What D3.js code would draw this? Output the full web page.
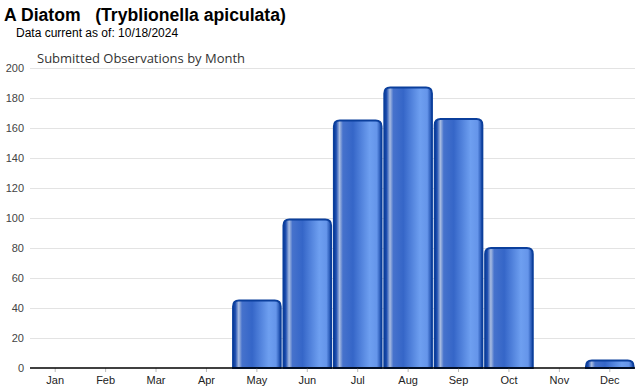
<!DOCTYPE html>
<html>
<head>
<meta charset="utf-8">
<script src="https://cdn.jsdelivr.net/npm/d3@7"></script>
<style>
  body { margin: 0; background: #fff; }
  svg { display: block; font-family: "Liberation Sans", Arial, sans-serif; }
</style>
</head>
<body>
<svg width="640" height="390"></svg>
<script>
var months = ["Jan", "Feb", "Mar", "Apr", "May", "Jun", "Jul", "Aug", "Sep", "Oct", "Nov", "Dec"];
var counts = [0, 0, 0, 0, 45, 99, 165, 187, 166, 80, 0, 5];
var yTicks = [0, 20, 40, 60, 80, 100, 120, 140, 160, 180, 200];

var svg = d3.select("svg");

var margin = {top: 68, right: 5, bottom: 22, left: 30},
    width = 640 - margin.left - margin.right,
    height = 390 - margin.top - margin.bottom;

// titles
svg.append("text")
    .attr("x", 4).attr("y", 21)
    .attr("font-size", 17.6).attr("font-weight", "bold")
    .attr("fill", "#000")
    .attr("xml:space", "preserve")
    .text("A Diatom   (Tryblionella apiculata)");

svg.append("text")
    .attr("x", 16).attr("y", 37)
    .attr("font-size", 12).attr("fill", "#000")
    .text("Data current as of: 10/18/2024");

svg.append("text")
    .attr("x", 37).attr("y", 63)
    .attr("font-size", 13).attr("fill", "#333")
    .attr("font-family", "'Open Sans', sans-serif")
    .text("Submitted Observations by Month");

var defs = svg.append("defs");
var grad = defs.append("linearGradient")
    .attr("id", "barGrad")
    .attr("x1", "0%").attr("x2", "100%")
    .attr("y1", "0%").attr("y2", "0%");
[
    [0, "#0a3a98"], [0.05, "#1f4fb0"], [0.12, "#a9bde2"], [0.19, "#4672cc"],
    [0.4, "#3566c8"], [0.75, "#6e9ff0"], [0.9, "#6595ea"], [1, "#0f40a0"]
].forEach(function (s) {
    grad.append("stop").attr("offset", s[0]).attr("stop-color", s[1]);
});

var g = svg.append("g")
    .attr("transform", "translate(" + margin.left + "," + margin.top + ")");

var x = d3.scaleBand()
    .domain(months)
    .range([0, width])
    .paddingInner(0.02)
    .paddingOuter(0.01);

var y = d3.scaleLinear()
    .domain([0, 200])
    .range([height, 0]);

// gridlines
g.selectAll(".grid")
    .data(yTicks.filter(function (d) { return d > 0; }))
    .enter().append("line")
    .attr("x1", 0).attr("x2", width)
    .attr("y1", function (d) { return Math.round(y(d)) + 0.5; })
    .attr("y2", function (d) { return Math.round(y(d)) + 0.5; })
    .attr("stroke", "#e3e3e3");

// y labels
var yAxis = g.append("g")
    .call(d3.axisLeft(y).tickValues(yTicks).tickSize(0).tickPadding(6));
yAxis.select(".domain").remove();
yAxis.selectAll("text")
    .attr("font-size", 11).attr("fill", "#444")
    .attr("font-family", "'Liberation Sans', Arial, sans-serif");

// bars with rounded tops
function barPath(d, i) {
    var x0 = x(months[i]) + 0.8, w = x.bandwidth() - 1.6;
    var y0 = y(d), h = height - y0, r = Math.min(6, h);
    return "M" + x0 + "," + height +
        "V" + (y0 + r) +
        "Q" + x0 + "," + y0 + " " + (x0 + r) + "," + y0 +
        "H" + (x0 + w - r) +
        "Q" + (x0 + w) + "," + y0 + " " + (x0 + w) + "," + (y0 + r) +
        "V" + height + "Z";
}

g.selectAll(".bar")
    .data(counts.map(function (d, i) { return {v: d, i: i}; })
        .filter(function (d) { return d.v > 0; }))
    .enter().append("path")
    .attr("class", "bar")
    .attr("d", function (d) { return barPath(d.v, d.i); })
    .attr("fill", "url(#barGrad)")
    .attr("stroke", "#0b3f9c")
    .attr("stroke-width", 1.8);

// x axis
var xAxis = g.append("g")
    .attr("transform", "translate(0," + height + ")")
    .call(d3.axisBottom(x).tickSize(4).tickPadding(4));
xAxis.select(".domain").remove();
xAxis.selectAll(".tick line").attr("stroke", "#bbb");
xAxis.selectAll("text")
    .attr("font-size", 11).attr("fill", "#222")
    .attr("font-family", "'Liberation Sans', Arial, sans-serif");

g.append("line")
    .attr("x1", 0).attr("x2", width)
    .attr("y1", height).attr("y2", height)
    .attr("stroke", "#000").attr("stroke-width", 1.5);
</script>
</body>
</html>
